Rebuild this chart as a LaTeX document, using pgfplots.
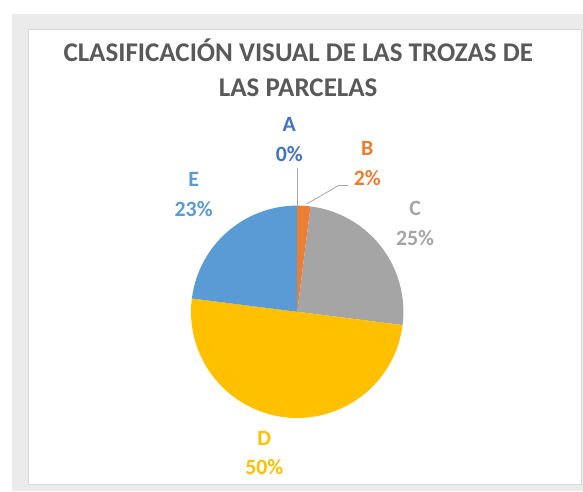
\documentclass[border=0pt]{standalone}
\usepackage{fontspec}
\setmainfont{Carlito}
\usepackage{pgfplots}
\usepackage{pgfplotstable}
\pgfplotsset{compat=1.18}
\definecolor{slice0}{HTML}{4472C4}
\definecolor{slice1}{HTML}{ED7D31}
\definecolor{slice2}{HTML}{A5A5A5}
\definecolor{slice3}{HTML}{FFC000}
\definecolor{slice4}{HTML}{5B9BD5}
\definecolor{titlegray}{HTML}{595959}
\definecolor{bandgray}{HTML}{EBEBEC}
\definecolor{leader}{HTML}{A6A6A6}
\tikzset{lbl/.style={font=\fontsize{22}{30}\selectfont\bfseries,align=center}}

% share in percent, label position in axis units (pie radius = 1)
\pgfplotstableread{
name pct lx ly
A 0 -0.075 1.62
B 2 0.66 1.40
C 25 1.11 0.835
D 50 -0.31 -1.33
E 23 -0.975 1.105
}\piedata

\begin{document}
% start/end angle of each slice, clockwise from 12 o'clock
\def\cum{0}
\pgfplotsforeachungrouped \i in {0,...,4}{%
  \pgfplotstablegetelem{\i}{pct}\of\piedata
  \edef\pc{\pgfplotsretval}%
  \pgfmathsetmacro\sa{90-3.6*\cum}%
  \pgfmathsetmacro\cum{\cum+\pc}%
  \pgfmathsetmacro\ea{90-3.6*\cum}%
  \pgfmathsetmacro\sx{cos(\sa)}%
  \pgfmathsetmacro\sy{sin(\sa)}%
  \expandafter\xdef\csname sa\i\endcsname{\sa}%
  \expandafter\xdef\csname ea\i\endcsname{\ea}%
  \expandafter\xdef\csname sx\i\endcsname{\sx}%
  \expandafter\xdef\csname sy\i\endcsname{\sy}%
  \expandafter\xdef\csname pc\i\endcsname{\pc}%
  \pgfplotstablegetelem{\i}{name}\of\piedata
  \expandafter\xdef\csname nm\i\endcsname{\pgfplotsretval}%
  \pgfplotstablegetelem{\i}{lx}\of\piedata
  \expandafter\xdef\csname lx\i\endcsname{\pgfplotsretval}%
  \pgfplotstablegetelem{\i}{ly}\of\piedata
  \expandafter\xdef\csname ly\i\endcsname{\pgfplotsretval}%
}
\begin{tikzpicture}
\useasboundingbox (0pt,0pt) rectangle (583pt,495pt);
\fill[white] (0pt,0pt) rectangle (583pt,495pt);
\fill[bandgray] (8pt,0pt) rectangle (583pt,481pt);
\fill[white,draw=black!15,line width=0.8pt] (24pt,7pt) rectangle (581pt,465pt);
\node[text=titlegray,font=\fontsize{27.2}{35}\selectfont\bfseries,align=center]
  at (296pt,427pt) {CLASIFICACIÓN VISUAL DE LAS TROZAS DE\\LAS PARCELAS};
\begin{axis}[
  at={(295pt,180.8pt)}, anchor=center,
  x=107pt, y=107pt,
  xmin=-1, xmax=1, ymin=-1, ymax=1,
  hide axis, clip=false
]
\pgfplotsinvokeforeach{0,...,4}{%
  \edef\tmp{\noexpand\fill[slice#1] (axis cs:0,0) -- (axis cs:\csname sx#1\endcsname,\csname sy#1\endcsname)
    arc[start angle=\csname sa#1\endcsname, end angle=\csname ea#1\endcsname, radius=107pt] -- cycle;}%
  \tmp
  \edef\tmp{\noexpand\node[lbl,text=slice#1] at (axis cs:\csname lx#1\endcsname,\csname ly#1\endcsname)
    {\csname nm#1\endcsname\noexpand\\\csname pc#1\endcsname\noexpand\%};}%
  \tmp
}
\draw[leader,line width=0.8pt] (axis cs:0,1.355) -- (axis cs:0,1.0);
\draw[leader,line width=0.8pt] (axis cs:0.09,1.015) -- (axis cs:0.39,1.19) -- (axis cs:0.48,1.19);
\end{axis}
\end{tikzpicture}
\end{document}
